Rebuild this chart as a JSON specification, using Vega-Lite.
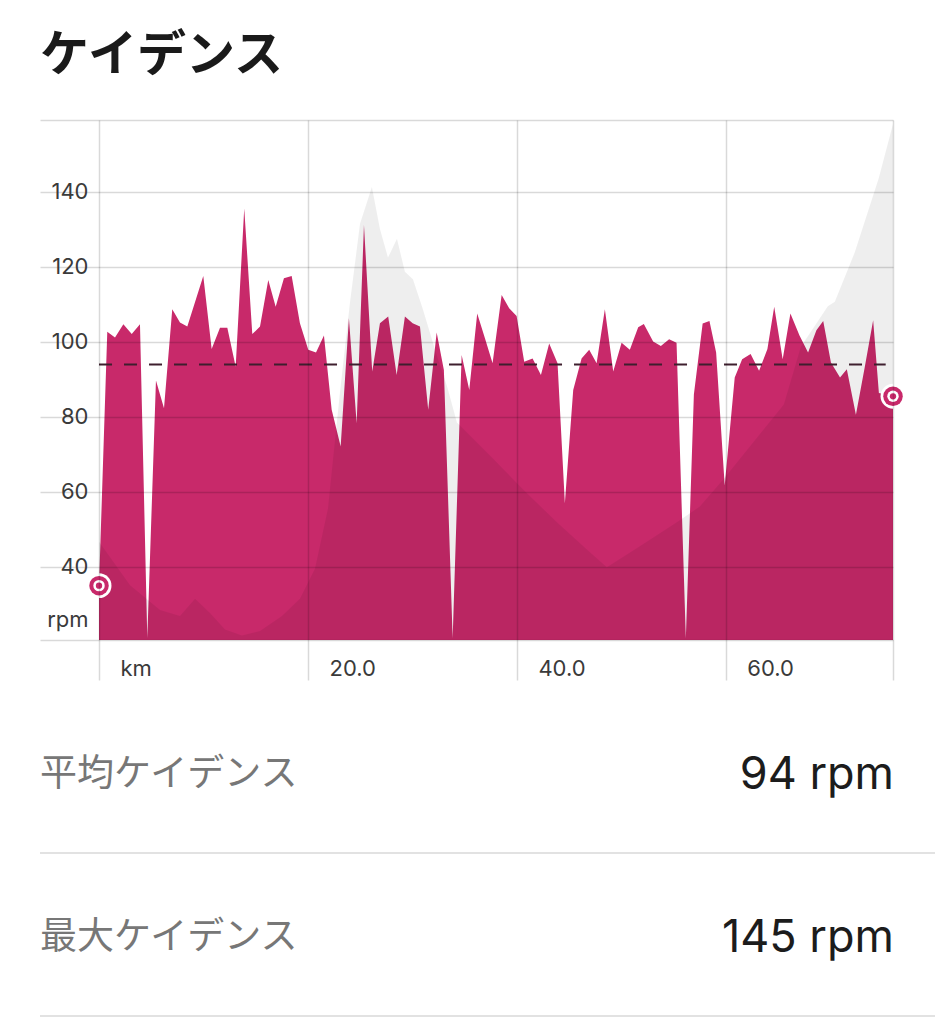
{
  "$schema": "https://vega.github.io/schema/vega-lite/v6.json",
  "width": 853,
  "height": 520,
  "autosize": {"type": "none"},
  "padding": {"left": 40, "top": 120, "right": 42, "bottom": 384},
  "background": "#ffffff",
  "config": {"view": {"stroke": null}, "font": "Inter"},
  "title": {"text": "ケイデンス", "anchor": "start", "frame": "group", "font": "Noto Sans CJK JP", "fontSize": 49, "fontWeight": "bold", "color": "#1a1a1a", "offset": 28},
  "datasets": {
    "cadence": [
      {"km": 0, "rpm": 35}, {"km": 0.79, "rpm": 102.7}, {"km": 1.53, "rpm": 101.2}, {"km": 2.33, "rpm": 104.7},
      {"km": 3.13, "rpm": 102.1}, {"km": 3.92, "rpm": 104.7}, {"km": 4.62, "rpm": 21}, {"km": 5.45, "rpm": 89.7},
      {"km": 6.22, "rpm": 82.3}, {"km": 7.01, "rpm": 108.7}, {"km": 7.75, "rpm": 105.2}, {"km": 8.45, "rpm": 104.1},
      {"km": 9.98, "rpm": 117.6}, {"km": 10.78, "rpm": 98.1}, {"km": 11.58, "rpm": 103.8}, {"km": 12.28, "rpm": 103.8},
      {"km": 13.08, "rpm": 93.4}, {"km": 13.9, "rpm": 135.6}, {"km": 14.67, "rpm": 102.1}, {"km": 15.41, "rpm": 104.1},
      {"km": 16.2, "rpm": 116.5}, {"km": 16.91, "rpm": 109.4}, {"km": 17.7, "rpm": 117}, {"km": 18.44, "rpm": 117.6},
      {"km": 19.23, "rpm": 105}, {"km": 20.03, "rpm": 97.9}, {"km": 20.77, "rpm": 97.2}, {"km": 21.53, "rpm": 101.7},
      {"km": 22.27, "rpm": 81.9}, {"km": 23.13, "rpm": 72.1}, {"km": 23.92, "rpm": 106.3}, {"km": 24.66, "rpm": 78.3},
      {"km": 25.36, "rpm": 131.2}, {"km": 26.15, "rpm": 92.1}, {"km": 26.89, "rpm": 105}, {"km": 27.68, "rpm": 106.8},
      {"km": 28.49, "rpm": 91.2}, {"km": 29.28, "rpm": 106.8}, {"km": 30.02, "rpm": 105}, {"km": 30.72, "rpm": 104.1},
      {"km": 31.51, "rpm": 81.9}, {"km": 32.32, "rpm": 102.5}, {"km": 33.01, "rpm": 92.5}, {"km": 33.85, "rpm": 21},
      {"km": 34.71, "rpm": 96.5}, {"km": 35.44, "rpm": 87.2}, {"km": 36.2, "rpm": 107.6}, {"km": 36.94, "rpm": 101},
      {"km": 37.67, "rpm": 94.3}, {"km": 38.54, "rpm": 112.5}, {"km": 39.26, "rpm": 109}, {"km": 39.97, "rpm": 106.9},
      {"km": 40.7, "rpm": 94.7}, {"km": 41.5, "rpm": 95.6}, {"km": 42.3, "rpm": 91.2}, {"km": 43.09, "rpm": 99.6},
      {"km": 43.89, "rpm": 94.3}, {"km": 44.59, "rpm": 57}, {"km": 45.39, "rpm": 87.2}, {"km": 46.19, "rpm": 95.6},
      {"km": 46.92, "rpm": 97.9}, {"km": 47.63, "rpm": 94.3}, {"km": 48.42, "rpm": 108.7}, {"km": 49.22, "rpm": 92.1},
      {"km": 50.02, "rpm": 99.8}, {"km": 50.81, "rpm": 97.9}, {"km": 51.61, "rpm": 103.9}, {"km": 52.15, "rpm": 104.8},
      {"km": 53.04, "rpm": 100.1}, {"km": 53.78, "rpm": 98.9}, {"km": 54.57, "rpm": 100.7}, {"km": 55.28, "rpm": 99.8},
      {"km": 56.17, "rpm": 21}, {"km": 56.94, "rpm": 86}, {"km": 57.78, "rpm": 104.9}, {"km": 58.43, "rpm": 105.6},
      {"km": 59.07, "rpm": 97.2}, {"km": 59.89, "rpm": 61.7}, {"km": 60.85, "rpm": 90.5}, {"km": 61.56, "rpm": 95.4},
      {"km": 62.37, "rpm": 96.8}, {"km": 63.18, "rpm": 92.3}, {"km": 63.98, "rpm": 98.1}, {"km": 64.63, "rpm": 109.4},
      {"km": 65.44, "rpm": 95.4}, {"km": 66.18, "rpm": 107.6}, {"km": 67.05, "rpm": 101.7}, {"km": 67.87, "rpm": 97.2},
      {"km": 68.67, "rpm": 103.1}, {"km": 69.32, "rpm": 105.6}, {"km": 70.06, "rpm": 94.5}, {"km": 70.93, "rpm": 90.5},
      {"km": 71.58, "rpm": 92.7}, {"km": 72.45, "rpm": 80.6}, {"km": 73.29, "rpm": 93.2}, {"km": 74.1, "rpm": 105.8},
      {"km": 74.65, "rpm": 86.4}, {"km": 76.0, "rpm": 85.5}
    ],
    "elevation": [
      {"km": 0, "elev": 131}, {"km": 2.97, "elev": 73}, {"km": 5.84, "elev": 40}, {"km": 7.75, "elev": 32},
      {"km": 9.19, "elev": 55}, {"km": 10.62, "elev": 36}, {"km": 12.06, "elev": 14}, {"km": 13.68, "elev": 6},
      {"km": 15.41, "elev": 12}, {"km": 17.51, "elev": 32}, {"km": 19.23, "elev": 55}, {"km": 20.67, "elev": 95},
      {"km": 21.91, "elev": 175}, {"km": 23.06, "elev": 330}, {"km": 24.02, "elev": 450}, {"km": 24.98, "elev": 555},
      {"km": 26.12, "elev": 604}, {"km": 26.89, "elev": 548}, {"km": 27.66, "elev": 510}, {"km": 28.52, "elev": 535},
      {"km": 29.28, "elev": 491}, {"km": 30.05, "elev": 481}, {"km": 31.0, "elev": 441}, {"km": 32.34, "elev": 379},
      {"km": 33.3, "elev": 339}, {"km": 34.26, "elev": 290}, {"km": 37.42, "elev": 246}, {"km": 40.57, "elev": 201},
      {"km": 43.83, "elev": 157}, {"km": 46.99, "elev": 117}, {"km": 48.61, "elev": 97}, {"km": 51.77, "elev": 125},
      {"km": 55.31, "elev": 157}, {"km": 57.51, "elev": 178}, {"km": 59.81, "elev": 215}, {"km": 65.55, "elev": 314},
      {"km": 67.18, "elev": 391}, {"km": 69.76, "elev": 445}, {"km": 70.43, "elev": 451}, {"km": 72.34, "elev": 517},
      {"km": 74.64, "elev": 616}, {"km": 76.0, "elev": 688}
    ],
    "stats": [
      {"row": 1, "label": "平均ケイデンス", "value": 94, "unit": "rpm"},
      {"row": 2, "label": "最大ケイデンス", "value": 145, "unit": "rpm"}
    ]
  },
  "layer": [
    {
      "data": {"name": "cadence"},
      "mark": {"type": "area", "color": "#C8296A", "opacity": 1},
      "encoding": {
        "x": {
          "field": "km", "type": "quantitative",
          "scale": {"domain": [-5.65, 76], "nice": false, "zero": false},
          "axis": {
            "title": null, "values": [0, 20, 40, 60, 76],
            "labelExpr": "datum.value == 0 ? 'km' : (datum.value > 70 ? '' : format(datum.value, '.1f'))",
            "grid": true, "gridColor": "#000000", "gridOpacity": 0.15, "gridWidth": 1.5,
            "ticks": true, "tickSize": 40, "tickColor": "#000000", "tickOpacity": 0.15, "tickWidth": 1.5,
            "domain": false, "labelAlign": "left", "labelBaseline": "alphabetic", "labelOffset": 21, "labelPadding": -5,
            "labelFont": "Inter", "labelFontSize": 22, "labelColor": "#3a3a3a", "labelFlush": false, "labelOverlap": false,
            "zindex": 1
          }
        },
        "y": {
          "field": "rpm", "type": "quantitative",
          "scale": {"domain": [20.5, 159.2], "nice": false, "zero": false},
          "axis": {
            "orient": "left", "title": null, "values": [20.5, 26, 40, 60, 80, 100, 120, 140, 159.2],
            "labelExpr": "datum.value == 26 ? 'rpm' : ((datum.value < 30 || datum.value > 150) ? '' : datum.label)",
            "grid": true, "gridColor": "#000000",
            "gridOpacity": {"condition": {"test": "datum.value == 26", "value": 0}, "value": 0.15},
            "gridWidth": 1.5, "ticks": false, "domain": false,
            "labelAlign": "right", "labelBaseline": "middle", "labelPadding": -48,
            "labelFont": "Inter", "labelFontSize": 22, "labelColor": "#3a3a3a", "labelFlush": false, "labelOverlap": false,
            "zindex": 1
          }
        },
        "y2": {"datum": 20.5}
      }
    },
    {
      "data": {"name": "elevation"},
      "mark": {"type": "area", "color": "#000000", "opacity": 0.065},
      "encoding": {
        "x": {"field": "km", "type": "quantitative"},
        "y": {"field": "elev", "type": "quantitative", "scale": {"domain": [0, 693.5], "nice": false, "zero": false}, "axis": null}
      }
    },
    {
      "data": {"name": "stats"},
      "transform": [{"filter": "datum.row == 1"}],
      "mark": {"type": "rule", "color": "#3e1f2e", "strokeWidth": 2, "strokeDash": [13, 12]},
      "encoding": {
        "x": {"datum": 0, "type": "quantitative"},
        "x2": {"datum": 75.3},
        "y": {"field": "value", "type": "quantitative", "scale": {"domain": [20.5, 159.2], "nice": false, "zero": false}, "axis": null}
      }
    },
    {
      "data": {"name": "cadence"},
      "transform": [{"filter": "datum.km == 0 || datum.km >= 76"}],
      "encoding": {
        "x": {"field": "km", "type": "quantitative"},
        "y": {"field": "rpm", "type": "quantitative", "scale": {"domain": [20.5, 159.2], "nice": false, "zero": false}, "axis": null}
      },
      "layer": [
        {"mark": {"type": "point", "filled": true, "shape": "circle", "size": 620, "color": "#ffffff", "opacity": 1}},
        {"mark": {"type": "point", "filled": true, "shape": "circle", "size": 380, "color": "#C8296A", "opacity": 1}},
        {"mark": {"type": "point", "filled": true, "shape": "circle", "size": 130, "color": "#ffffff", "opacity": 1}},
        {"mark": {"type": "point", "filled": true, "shape": "circle", "size": 40, "color": "#C8296A", "opacity": 1}}
      ]
    },
    {
      "data": {"name": "stats"},
      "transform": [{"calculate": "datum.value + ' ' + datum.unit", "as": "valueText"}],
      "encoding": {
        "y": {"field": "row", "type": "quantitative", "scale": {"domain": [1, 2], "range": [655, 818]}, "axis": null}
      },
      "layer": [
        {"mark": {"type": "text", "align": "left", "baseline": "middle", "font": "Noto Sans CJK JP", "fontSize": 37, "fontWeight": 400, "color": "#777777"},
         "encoding": {"x": {"value": 0}, "text": {"field": "label"}}},
        {"mark": {"type": "text", "align": "right", "baseline": "middle", "font": "Inter", "fontSize": 45, "fontWeight": 400, "color": "#1c1c1c"},
         "encoding": {"x": {"value": 854}, "text": {"field": "valueText"}}},
        {"mark": {"type": "rule", "color": "#e2e2e2", "strokeWidth": 2, "yOffset": 78},
         "encoding": {"x": {"value": 0}, "x2": {"value": 895}}}
      ]
    }
  ],
  "resolve": {"scale": {"y": "independent"}}
}
